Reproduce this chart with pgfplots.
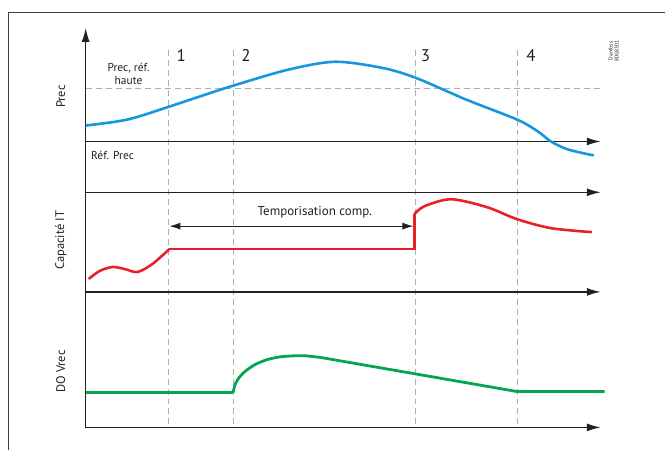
\documentclass[border=0pt]{standalone}
\usepackage{pgfplots}
\pgfplotsset{compat=1.18}
\usepackage{fontspec}
\setmainfont{PT Sans}
\usetikzlibrary{arrows.meta}
\definecolor{dblue}{RGB}{22,150,220}
\definecolor{dred}{RGB}{234,32,40}
\definecolor{dgreen}{RGB}{0,166,81}
\definecolor{axc}{RGB}{35,31,32}
\definecolor{dashc}{RGB}{175,175,175}
\begin{document}
\begin{tikzpicture}
\begin{axis}[
  x=1pt, y=1pt, y dir=reverse,
  xmin=0, xmax=665, ymin=0, ymax=450,
  hide axis, clip=false,
]
% bounding box
\path (axis cs:0,0) rectangle (axis cs:665,450);
% frame
\addplot[axc!85, line width=1pt] coordinates {(8.5,452) (8.5,12.5) (667,12.5)};
% dashed guides
\addplot[dashc, line width=0.8pt, dash pattern=on 6pt off 4pt] coordinates {(86,89) (604,89)};
\addplot[dashc, line width=0.8pt, dash pattern=on 6pt off 4pt] coordinates {(169,50) (169,429)};
\addplot[dashc, line width=0.8pt, dash pattern=on 6pt off 4pt] coordinates {(234,50) (234,429)};
\addplot[dashc, line width=0.8pt, dash pattern=on 6pt off 4pt] coordinates {(417,50) (417,429)};
\addplot[dashc, line width=0.8pt, dash pattern=on 6pt off 4pt] coordinates {(519,50) (519,429)};
% axes
\addplot[axc, line width=1.4pt, -{Latex[length=14pt,width=8pt]}] coordinates {(86,429.7) (86,28)};
\addplot[axc, line width=1.4pt, -{Latex[length=14pt,width=8pt]}] coordinates {(85.3,142) (603,142)};
\addplot[axc, line width=1.4pt, -{Latex[length=14pt,width=8pt]}] coordinates {(85.3,193) (603,193)};
\addplot[axc, line width=1.4pt, -{Latex[length=14pt,width=8pt]}] coordinates {(85.3,293) (603,293)};
\addplot[axc, line width=1.4pt, -{Latex[length=14pt,width=8pt]}] coordinates {(85.3,429) (603,429)};
% temporisation arrow
\addplot[axc, line width=1pt, {Latex[length=11pt,width=7pt]}-{Latex[length=11pt,width=7pt]}] coordinates {(170,227) (415,227)};
% blue curve
\addplot[dblue, line width=2.6pt, smooth] coordinates {
 (86,126) (128,120) (170,107) (200,97) (234,86) (289,70) (336,62) (383,68) (417,78) (468,100) (519,120) (540,132) (553,142) (570,150) (596,156)};
% red curve
\addplot[dred, line width=2.6pt, smooth] coordinates {
 (89,280) (100,272) (113,268) (125,270) (138,273) (153,265) (170,250)};
\addplot[dred, line width=2.6pt] coordinates {(170,250) (416,250) (416,215)};
\addplot[dred, line width=2.6pt, smooth] coordinates {
 (416,215) (426,207) (453,200) (489,208) (519,220) (553,229) (594,233)};
% green curve
\addplot[dgreen, line width=2.8pt] coordinates {(86,394) (234,394)};
\addplot[dgreen, line width=2.8pt, smooth] coordinates {
 (234,394) (236,386) (240,379) (247,372) (256,366) (268,361) (283,358) (304,357) (323,359)};
\addplot[dgreen, line width=2.8pt] coordinates {(323,359) (519,393) (607,393)};
% texts
\node[font=\fontsize{17}{17}\selectfont, text=axc] at (axis cs:182,56) {1};
\node[font=\fontsize{17}{17}\selectfont, text=axc] at (axis cs:247,56) {2};
\node[font=\fontsize{17}{17}\selectfont, text=axc] at (axis cs:427,56) {3};
\node[font=\fontsize{17}{17}\selectfont, text=axc] at (axis cs:533,56) {4};
\node[font=\fontsize{11.5}{12.5}\selectfont, text=axc, align=center] at (axis cs:129,74) {Prec, réf.\\haute};
\node[font=\fontsize{11.5}{12.5}\selectfont, text=axc, anchor=west] at (axis cs:88,156) {Réf. Prec};
\node[font=\fontsize{13}{14}\selectfont, text=axc] at (axis cs:316,213) {Temporisation comp.};
\node[font=\fontsize{12.5}{14}\selectfont, text=axc, rotate=90] at (axis cs:61,97) {Prec};
\node[font=\fontsize{12.5}{14}\selectfont, text=axc, rotate=90] at (axis cs:61,241) {Capacité IT};
\node[font=\fontsize{12.5}{14}\selectfont, text=axc, rotate=90] at (axis cs:61,373) {DO Vrec};
\node[font=\fontsize{5.5}{6}\selectfont, text=axc, rotate=90, align=center] at (axis cs:616,51) {Danfoss\\80G8301};
\end{axis}
\end{tikzpicture}
\end{document}
